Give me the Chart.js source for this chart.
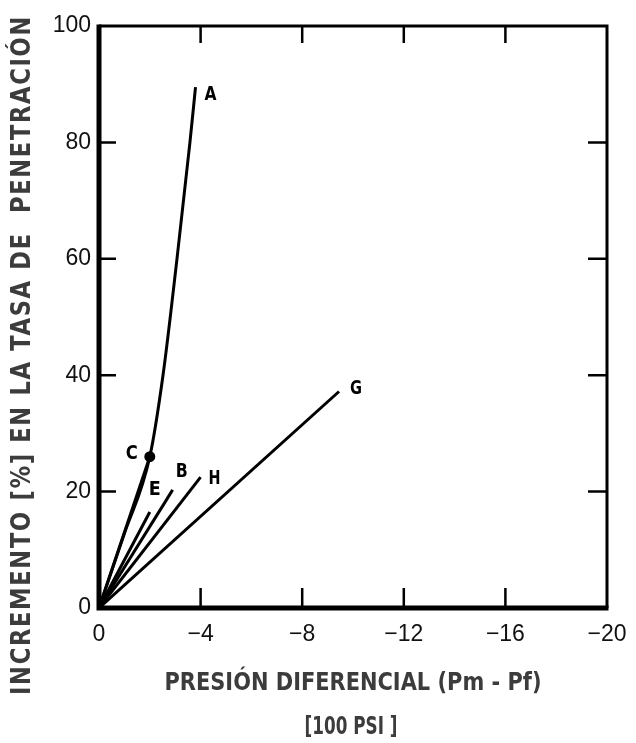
<!DOCTYPE html>
<html>
<head>
<meta charset="utf-8">
<script src="https://cdn.jsdelivr.net/npm/chart.js@4.4.1/dist/chart.umd.min.js"></script>
<style>
  html, body { margin: 0; padding: 0; background: #ffffff; }
  #wrap { width: 636px; height: 743px; position: relative; }
</style>
</head>
<body>
<div id="wrap"><canvas id="chart" width="636" height="743"></canvas></div>
<script>
// Axis ticks
const xTicks = [0, -4, -8, -12, -16, -20];
const yTicks = [0, 20, 40, 60, 80, 100];

// Curves: pressure differential (x, 100 psi) vs. increase in penetration rate (y, %)
const curveA_x = [0, -1.0, -2.0, -2.52, -3.07, -3.58, -3.8];
const curveA_y = [0, 12.8, 26, 40, 60, 80, 89.5];
const curveC_x = [0, -2.0];
const curveC_y = [0, 26];
const curveE_x = [0, -2.0];
const curveE_y = [0, 16.5];
const curveB_x = [0, -2.9];
const curveB_y = [0, 20.3];
const curveH_x = [0, -4.0];
const curveH_y = [0, 22.5];
const curveG_x = [0, -9.45];
const curveG_y = [0, 37.2];

const curveNames = ['A', 'C', 'E', 'B', 'H', 'G'];
const curveXs = [curveA_x, curveC_x, curveE_x, curveB_x, curveH_x, curveG_x];
const curveYs = [curveA_y, curveC_y, curveE_y, curveB_y, curveH_y, curveG_y];
// label offsets from each curve's end point, in pixels
const labelDx = [15, -18, 5, 9, 14, 17];
const labelDy = [8, -3, -22, -18, 2, -3];

const titleY = 'INCREMENTO [%] EN LA TASA DE  PENETRACIÓN';
const titleX1 = 'PRESIÓN DIFERENCIAL (Pm - Pf)';
const titleX2 = '[100 PSI ]';

const titleFont = "'DejaVu Sans', sans-serif";
const tickFont = "'Liberation Sans', Arial, sans-serif";

const datasets = curveNames.map((name, i) => ({
  label: name,
  data: curveXs[i].map((x, k) => ({ x: x, y: curveYs[i][k] })),
  borderColor: '#000000',
  backgroundColor: '#000000',
  borderWidth: 3,
  pointRadius: name === 'C' ? [0, 4] : 0,
  pointHoverRadius: 0,
  cubicInterpolationMode: name === 'A' ? 'monotone' : 'default',
  tension: 0
}));

const tickText = v => (v < 0 ? '\u2212' + Math.abs(v) : String(v));

// draws a condensed title line squeezed to a given width, centred at (cx, cy)
function fitText(ctx, text, cx, cy, width, angle) {
  ctx.save();
  ctx.translate(cx, cy);
  ctx.rotate(angle);
  const w = ctx.measureText(text).width;
  ctx.scale(width / w, 1);
  ctx.fillText(text, 0, 0);
  ctx.restore();
}

// frame, inward tick marks, curve labels and axis titles
const decorations = {
  id: 'decorations',
  afterDatasetsDraw(chart) {
    const { ctx, chartArea: a, scales } = chart;
    const xs = scales.x, ys = scales.y;
    ctx.save();
    ctx.strokeStyle = '#000';
    ctx.lineCap = 'butt';

    // frame
    ctx.lineWidth = 3;
    ctx.beginPath();
    ctx.moveTo(a.left, a.top); ctx.lineTo(a.right, a.top); ctx.lineTo(a.right, a.bottom);
    ctx.stroke();
    ctx.lineWidth = 5;
    ctx.beginPath();
    ctx.moveTo(a.left, a.top - 1.5); ctx.lineTo(a.left, a.bottom); ctx.lineTo(a.right + 1.5, a.bottom);
    ctx.stroke();

    // inward ticks
    const tl = 17;
    ctx.lineWidth = 2.5;
    xTicks.slice(1, -1).forEach(v => {
      const px = xs.getPixelForValue(v);
      ctx.beginPath();
      ctx.moveTo(px, a.bottom); ctx.lineTo(px, a.bottom - tl - 3);
      ctx.moveTo(px, a.top); ctx.lineTo(px, a.top + tl);
      ctx.stroke();
    });
    yTicks.slice(1, -1).forEach(v => {
      const py = ys.getPixelForValue(v);
      ctx.beginPath();
      ctx.moveTo(a.left, py); ctx.lineTo(a.left + tl, py);
      ctx.moveTo(a.right, py); ctx.lineTo(a.right - tl - 2, py);
      ctx.stroke();
    });

    // curve labels
    ctx.fillStyle = '#000';
    ctx.textAlign = 'center';
    ctx.textBaseline = 'middle';
    ctx.font = "bold 20px " + titleFont;
    curveNames.forEach((name, i) => {
      const n = curveXs[i].length - 1;
      const px = xs.getPixelForValue(curveXs[i][n]);
      const py = ys.getPixelForValue(curveYs[i][n]);
      fitText(ctx, name, px + labelDx[i], py + labelDy[i], 12, 0);
    });

    // axis titles
    ctx.fillStyle = '#3c3c3c';
    ctx.font = "bold 24px " + titleFont;
    fitText(ctx, titleX1, 353, 684, 377, 0);
    fitText(ctx, titleX2, 351, 728, 93, 0);

    ctx.font = "bold 27px " + titleFont;
    ctx.letterSpacing = '2px';
    fitText(ctx, titleY, 23, 355, 680, -Math.PI / 2);

    ctx.restore();
  }
};

new Chart(document.getElementById('chart'), {
  type: 'line',
  data: { datasets: datasets },
  options: {
    responsive: false,
    animation: false,
    layout: { padding: { top: 26, right: 29, left: 0, bottom: 0 } },
    plugins: { legend: { display: false }, tooltip: { enabled: false } },
    scales: {
      x: {
        type: 'linear',
        reverse: true,
        min: -20,
        max: 0,
        afterBuildTicks(scale) { scale.ticks = xTicks.map(v => ({ value: v })); },
        afterFit(scale) {
          scale.height = 135;
          scale.paddingLeft = 0;
          scale.paddingRight = 0;
        },
        grid: { display: false, drawTicks: false },
        border: { display: false },
        ticks: {
          padding: 13,
          color: '#111111',
          font: { family: tickFont, size: 23 },
          callback: tickText
        }
      },
      y: {
        type: 'linear',
        min: 0,
        max: 100,
        afterBuildTicks(scale) { scale.ticks = yTicks.map(v => ({ value: v })); },
        afterFit(scale) {
          scale.width = 99;
          scale.paddingTop = 0;
          scale.paddingBottom = 0;
        },
        grid: { display: false, drawTicks: false },
        border: { display: false },
        ticks: {
          padding: 8,
          color: '#111111',
          font: { family: tickFont, size: 23 },
          callback: tickText
        }
      }
    }
  },
  plugins: [decorations]
});
</script>
</body>
</html>
